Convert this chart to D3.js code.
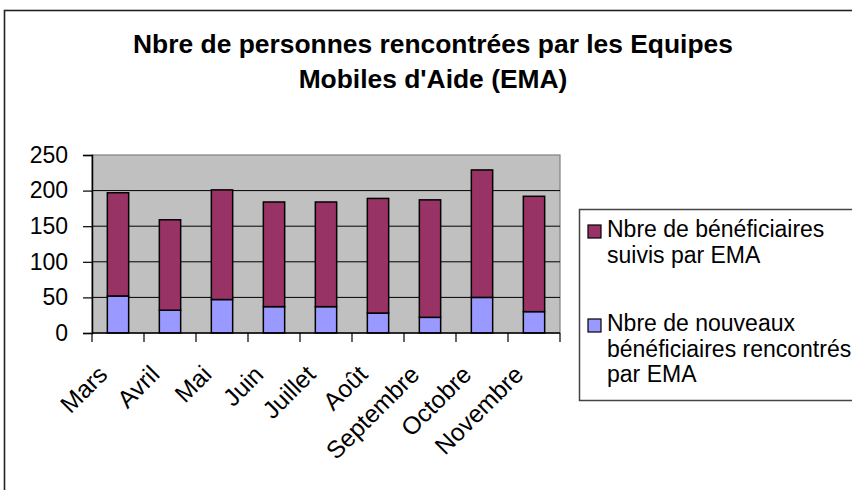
<!DOCTYPE html>
<html>
<head>
<meta charset="utf-8">
<script src="https://cdn.jsdelivr.net/npm/d3@7"></script>
<style>
  body { margin: 0; background: #fff; }
  svg { font-family: "Liberation Sans", Arial, sans-serif; }
</style>
</head>
<body>
<script>
const months = ['Mars', 'Avril', 'Mai', 'Juin', 'Juillet', 'Août', 'Septembre', 'Octobre', 'Novembre']
const nouveaux = [52, 32, 47, 37, 37, 28, 22, 50, 30]
const suivis = [145, 127, 154, 147, 147, 161, 165, 179, 162]
const yTicks = [0, 50, 100, 150, 200, 250]

const width = 852, height = 490
const plot = { left: 92, right: 560, top: 155, bottom: 333 }

const svg = d3.select('body').append('svg')
    .attr('width', width)
    .attr('height', height)

// outer chart frame (cropped at right/bottom)
svg.append('rect')
    .attr('x', 4.5).attr('y', 10.5)
    .attr('width', 900).attr('height', 600)
    .attr('fill', 'none').attr('stroke', '#222').attr('stroke-width', 1.6)

// title
svg.append('text')
    .attr('text-anchor', 'middle')
    .attr('font-weight', 'bold').attr('font-size', 26.4)
    .selectAll('tspan')
    .data(['Nbre de personnes rencontrées par les Equipes', "Mobiles d'Aide (EMA)"])
    .enter().append('tspan')
    .attr('x', 433)
    .attr('y', (d, i) => i ? 88 : 53)
    .text(d => d)

const x = d3.scaleBand().domain(months).range([plot.left, plot.right])
const y = d3.scaleLinear().domain([0, 250]).range([plot.bottom, plot.top])

// plot area
svg.append('rect')
    .attr('x', plot.left).attr('y', plot.top)
    .attr('width', plot.right - plot.left).attr('height', plot.bottom - plot.top)
    .attr('fill', '#c0c0c0').attr('stroke', '#808080').attr('stroke-width', 1.2)

// gridlines
svg.append('g')
    .selectAll('line')
    .data(yTicks.filter(d => d > 0 && d < 250))
    .enter().append('line')
    .attr('x1', plot.left).attr('x2', plot.right)
    .attr('y1', d => y(d)).attr('y2', d => y(d))
    .attr('stroke', '#000').attr('stroke-width', 1)

// stacked bars
const rows = months.map((m, i) => ({ month: m, nouveaux: nouveaux[i], suivis: suivis[i] }))
const stack = d3.stack().keys(['nouveaux', 'suivis'])(rows)
const colors = { nouveaux: '#9999ff', suivis: '#993366' }
const barW = x.bandwidth() * 0.41

svg.append('g')
    .selectAll('g')
    .data(stack)
    .enter().append('g')
    .attr('fill', d => colors[d.key])
    .selectAll('rect')
    .data(d => d)
    .enter().append('rect')
    .attr('x', d => x(d.data.month) + (x.bandwidth() - barW) / 2)
    .attr('y', d => y(d[1]))
    .attr('width', barW)
    .attr('height', d => y(d[0]) - y(d[1]))
    .attr('stroke', '#000').attr('stroke-width', 1.5)

// y axis
const yAxis = svg.append('g')
    .attr('transform', `translate(${plot.left},0)`)
    .call(d3.axisLeft(y).tickValues(yTicks).tickSize(9).tickPadding(15))
yAxis.select('.domain').attr('stroke', '#000').attr('stroke-width', 1.5)
yAxis.selectAll('.tick line').attr('stroke', '#000').attr('stroke-width', 1.2)
yAxis.selectAll('text').attr('font-size', 23).attr('fill', '#000')
    .attr('font-family', '"Liberation Sans", Arial, sans-serif')

// x axis: ticks at band boundaries
const xAxis = svg.append('g')
svg.append('line')
    .attr('x1', plot.left).attr('x2', plot.right)
    .attr('y1', plot.bottom).attr('y2', plot.bottom)
    .attr('stroke', '#000').attr('stroke-width', 1.5)
xAxis.selectAll('line')
    .data(d3.range(months.length + 1))
    .enter().append('line')
    .attr('x1', i => plot.left + i * x.step())
    .attr('x2', i => plot.left + i * x.step())
    .attr('y1', plot.bottom).attr('y2', plot.bottom + 9)
    .attr('stroke', '#000').attr('stroke-width', 1.2)
xAxis.selectAll('text')
    .data(months)
    .enter().append('text')
    .attr('transform', d => `translate(${x(d) + x.bandwidth() / 2 - 9},${plot.bottom + 43}) rotate(-45)`)
    .attr('text-anchor', 'end')
    .attr('font-size', 24.5)
    .text(d => d)

// legend
svg.append('rect')
    .attr('x', 579.5).attr('y', 209.5)
    .attr('width', 300).attr('height', 191)
    .attr('fill', '#fff').attr('stroke', '#444').attr('stroke-width', 1.5)
const legendLines = [
    ['Nbre de bénéficiaires', 'suivis par EMA'],
    ['Nbre de nouveaux', 'bénéficiaires rencontrés', 'par EMA']
]
const legendKeys = ['suivis', 'nouveaux']
const entry = svg.append('g').selectAll('g')
    .data(legendKeys)
    .enter().append('g')
    .attr('transform', (d, i) => `translate(0,${i ? 331 : 237})`)
entry.append('rect')
    .attr('x', 588).attr('y', -12)
    .attr('width', 13).attr('height', 13)
    .attr('fill', d => colors[d]).attr('stroke', '#000').attr('stroke-width', 1.2)
entry.append('text')
    .attr('font-size', 23)
    .selectAll('tspan')
    .data((d, i) => legendLines[i])
    .enter().append('tspan')
    .attr('x', 607)
    .attr('dy', (d, i) => i ? 25.5 : 0)
    .text(d => d)
</script>
</body>
</html>
